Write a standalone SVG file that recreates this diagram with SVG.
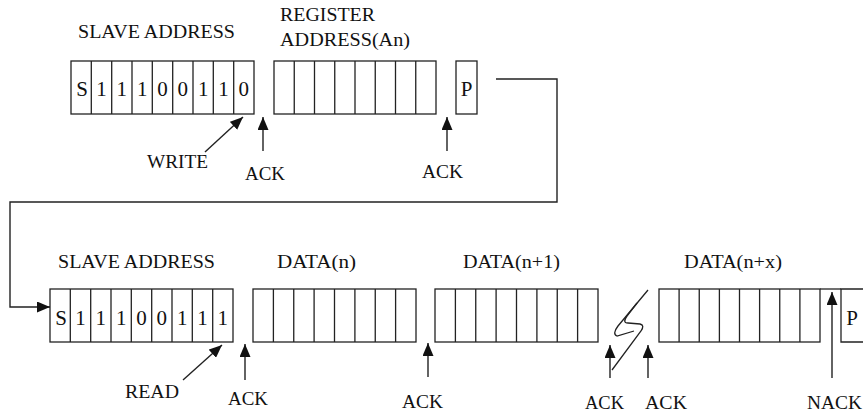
<svg xmlns="http://www.w3.org/2000/svg" width="863" height="415" viewBox="0 0 863 415">
<style>
  .box{fill:none;stroke:#222;stroke-width:1.3}
  .ln{fill:none;stroke:#222;stroke-width:1.3}
  .lbl{font-family:"Liberation Serif","Times New Roman",serif;font-size:18px;fill:#111}
  .dig{font-family:"Liberation Serif","Times New Roman",serif;font-size:21px;fill:#111;text-anchor:middle}
  .arr{fill:none;stroke:#222;stroke-width:1.4;marker-end:url(#ah)}
</style>
<defs>
  <marker id="ah" viewBox="0 0 13 11" refX="13" refY="5.5" markerWidth="13" markerHeight="11" markerUnits="userSpaceOnUse" orient="auto">
    <path d="M0,0 L13,5.5 L0,11 z" fill="#111"/>
  </marker>
</defs>
<rect width="863" height="415" fill="#fff"/>

<g id="top-slave-address">
  <rect class="box" x="71" y="61" width="183" height="53"/>
  <path class="ln" d="M91.3,61V114M111.7,61V114M132,61V114M152.3,61V114M172.7,61V114M193,61V114M213.3,61V114M233.7,61V114"/>
  <text class="lbl" x="78" y="38" textLength="157" lengthAdjust="spacingAndGlyphs">SLAVE ADDRESS</text>
  <text class="dig" x="82" y="96">S</text>
  <text class="dig" x="101.5" y="96">1</text>
  <text class="dig" x="121.8" y="96">1</text>
  <text class="dig" x="142.2" y="96">1</text>
  <text class="dig" x="162.5" y="96">0</text>
  <text class="dig" x="182.8" y="96">0</text>
  <text class="dig" x="203.2" y="96">1</text>
  <text class="dig" x="223.5" y="96">1</text>
  <text class="dig" x="243.8" y="96">0</text>
</g>

<g id="top-register-address">
  <rect class="box" x="274" y="61" width="162" height="53"/>
  <path class="ln" d="M294.25,61V114M314.5,61V114M334.75,61V114M355,61V114M375.25,61V114M395.5,61V114M415.75,61V114"/>
  <text class="lbl" x="280" y="21" textLength="95" lengthAdjust="spacingAndGlyphs">REGISTER</text>
  <text class="lbl" x="280" y="46" textLength="130" lengthAdjust="spacingAndGlyphs">ADDRESS(An)</text>
</g>

<g id="top-stop">
  <rect class="box" x="456" y="61" width="21" height="53"/>
  <text class="dig" x="466.5" y="96">P</text>
</g>

<g id="top-labels">
  <text class="lbl" x="147" y="168" textLength="61" lengthAdjust="spacingAndGlyphs">WRITE</text>
  <text class="lbl" x="245" y="180" textLength="40" lengthAdjust="spacingAndGlyphs">ACK</text>
  <text class="lbl" x="422" y="178" textLength="41" lengthAdjust="spacingAndGlyphs">ACK</text>
</g>

<g id="bottom-slave-address">
  <rect class="box" x="50" y="289" width="183" height="53"/>
  <path class="ln" d="M70.3,289V342M90.7,289V342M111,289V342M131.3,289V342M151.7,289V342M172,289V342M192.3,289V342M212.7,289V342"/>
  <text class="lbl" x="58" y="268" textLength="157" lengthAdjust="spacingAndGlyphs">SLAVE ADDRESS</text>
  <text class="dig" x="61" y="325">S</text>
  <text class="dig" x="80.5" y="325">1</text>
  <text class="dig" x="100.8" y="325">1</text>
  <text class="dig" x="121.2" y="325">1</text>
  <text class="dig" x="141.5" y="325">0</text>
  <text class="dig" x="161.8" y="325">0</text>
  <text class="dig" x="182.2" y="325">1</text>
  <text class="dig" x="202.5" y="325">1</text>
  <text class="dig" x="222.8" y="325">1</text>
</g>

<g id="data-n">
  <rect class="box" x="253" y="289" width="163" height="53"/>
  <path class="ln" d="M273.4,289V342M293.75,289V342M314.1,289V342M334.5,289V342M354.9,289V342M375.25,289V342M395.6,289V342"/>
  <text class="lbl" x="277" y="268" textLength="79" lengthAdjust="spacingAndGlyphs">DATA(n)</text>
</g>

<g id="data-n1">
  <rect class="box" x="435" y="289" width="163" height="53"/>
  <path class="ln" d="M455.4,289V342M475.75,289V342M496.1,289V342M516.5,289V342M536.9,289V342M557.25,289V342M577.6,289V342"/>
  <text class="lbl" x="463" y="268" textLength="97" lengthAdjust="spacingAndGlyphs">DATA(n+1)</text>
</g>

<g id="break">
  <path class="ln" d="M648,290L618,326Q612,334 617,336L634,331"/>
  <path class="ln" d="M637,303L627,316Q622,323 628,323L640,324Q645,325 641,331L612,370"/>
</g>

<g id="data-nx">
  <rect class="box" x="659" y="289" width="161" height="53"/>
  <path class="ln" d="M679.1,289V342M699.25,289V342M719.4,289V342M739.5,289V342M759.6,289V342M779.75,289V342M799.9,289V342"/>
  <text class="lbl" x="684" y="268" textLength="98" lengthAdjust="spacingAndGlyphs">DATA(n+x)</text>
</g>

<g id="nack-cell">
  <path class="ln" d="M820,289H841"/>
</g>

<g id="bottom-stop">
  <path class="ln" d="M870,289H841V342H870"/>
  <text class="dig" x="852" y="325">P</text>
</g>

<g id="bottom-labels">
  <text class="lbl" x="125" y="398" textLength="54" lengthAdjust="spacingAndGlyphs">READ</text>
  <text class="lbl" x="228" y="405" textLength="40" lengthAdjust="spacingAndGlyphs">ACK</text>
  <text class="lbl" x="402" y="408" textLength="41" lengthAdjust="spacingAndGlyphs">ACK</text>
  <text class="lbl" x="585" y="409" textLength="39" lengthAdjust="spacingAndGlyphs">ACK</text>
  <text class="lbl" x="645" y="409" textLength="42" lengthAdjust="spacingAndGlyphs">ACK</text>
  <text class="lbl" x="807" y="409" textLength="55" lengthAdjust="spacingAndGlyphs">NACK</text>
</g>

<g id="connectors">
  <path class="arr" d="M496,79H557V202H10V307H50"/>
  <line class="arr" x1="205" y1="152" x2="243" y2="117"/>
  <line class="arr" x1="263" y1="151" x2="263" y2="117"/>
  <line class="arr" x1="447" y1="151" x2="447" y2="117"/>
  <line class="arr" x1="183" y1="380" x2="222" y2="345"/>
  <line class="arr" x1="245" y1="380" x2="245" y2="344"/>
  <line class="arr" x1="428" y1="377" x2="428" y2="343"/>
  <line class="arr" x1="610" y1="378" x2="610" y2="345"/>
  <line class="arr" x1="648" y1="378" x2="648" y2="345"/>
  <line class="arr" x1="832" y1="378" x2="832" y2="292"/>
</g>
</svg>
